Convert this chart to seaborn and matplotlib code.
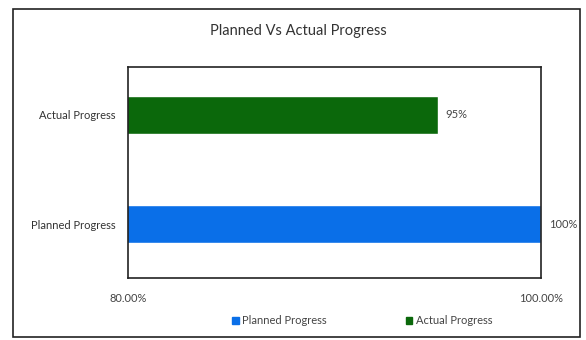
import matplotlib
matplotlib.use("Agg")
import matplotlib.pyplot as plt
from matplotlib.patches import Rectangle, Patch
import seaborn as sns
import pandas as pd

# Progress values (percent)
categories = ["Actual Progress", "Planned Progress"]
progress = [95, 100]
value_labels = ["95%", "100%"]
bar_colors = ["#0b680b", "#0a6fe8"]
x_ticks = [80, 100]
x_tick_labels = ["80.00%", "100.00%"]
title = "Planned Vs Actual Progress"
legend_order = ["Planned Progress", "Actual Progress"]

df = pd.DataFrame({"category": categories, "progress": progress})

sns.set_theme(style="white")
plt.rcParams["font.family"] = ["Lato", "DejaVu Sans"]

W, H = 586, 340
fig = plt.figure(figsize=(W / 100, H / 100), dpi=100)
fig.patch.set_facecolor("white")

ax = fig.add_axes([128 / W, 1 - 278 / H, (541 - 128) / W, (278 - 67) / H])
palette = dict(zip(categories, bar_colors))
sns.barplot(data=df, x="progress", y="category", hue="category", order=categories,
            palette=palette, width=0.35, legend=False, ax=ax, saturation=1)

ax.set_xlim(80, 100)
ax.set_ylim(1.495, -0.44)
ax.set_xticks(x_ticks)
ax.set_xticklabels(x_tick_labels, fontsize=8, color="#444444")
ax.tick_params(axis="both", length=0)
ax.tick_params(axis="x", pad=11)
ax.tick_params(axis="y", pad=9, labelsize=8, labelcolor="#333333")
ax.set_xlabel("")
ax.set_ylabel("")
for s in ax.spines.values():
    s.set_visible(True)
    s.set_color("#222222")
    s.set_linewidth(1.2)

for i, (v, lab) in enumerate(zip(progress, value_labels)):
    ax.annotate(lab, xy=(min(v, 100), i), xytext=(5.5, 0), textcoords="offset points",
                va="center", ha="left", fontsize=8, color="#444444",
                annotation_clip=False)

fig.text(298 / W, 1 - 31 / H, title, ha="center", va="center", fontsize=10.5, color="#333333")

handles = [Patch(color=palette[c], label=c) for c in legend_order]
fig.legend(handles=handles, loc="center", bbox_to_anchor=(362 / W, 1 - 321 / H), ncol=2,
           frameon=False, fontsize=8, handlelength=0.6, handleheight=0.6,
           handletextpad=0.3, columnspacing=7.1, labelcolor="#444444")

fig.patches.append(Rectangle((13 / W, 1 - 337 / H), (580 - 13) / W, (337 - 9) / H,
                             transform=fig.transFigure, fill=False,
                             edgecolor="#222222", linewidth=1.2))

fig.savefig("out.png", dpi=100)
